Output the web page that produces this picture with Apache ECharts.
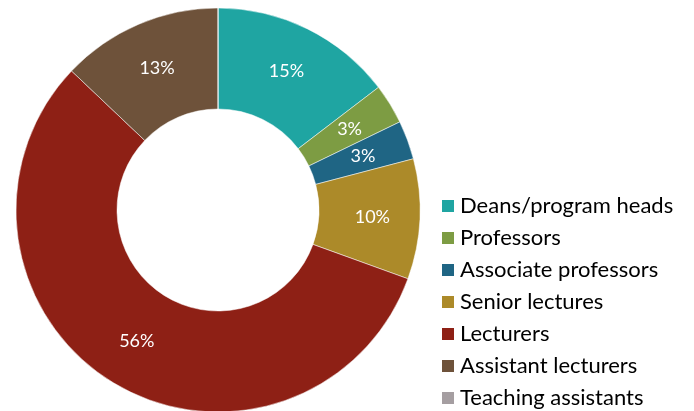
<!DOCTYPE html>
<html>
<head>
<meta charset="utf-8">
<script src="https://cdn.jsdelivr.net/npm/echarts@6/dist/echarts.min.js"></script>
<style>
  html, body { margin: 0; padding: 0; background: #fff; }
  #main { width: 694px; height: 411px; }
</style>
</head>
<body>
<div id="main"></div>
<script>
// staff categories and their share (percent)
var categories = ['Deans/program heads', 'Professors', 'Associate professors', 'Senior lectures', 'Lecturers', 'Assistant lecturers', 'Teaching assistants'];
var shares = [14.6, 3.2, 3.1, 9.6, 56.5, 12.9, 0];
var colors = ['#1fa5a2', '#7d9c43', '#1f6584', '#ac8a29', '#8e2015', '#6e523a', '#a59ea1'];

var data = [];
for (var i = 0; i < categories.length; i++) {
	data.push({ name: categories[i], value: shares[i] });
}

var myChart = echarts.init(document.getElementById('main'));
myChart.setOption({
	color: colors,
	animation: false,
	legend: {
		orient: 'vertical',
		left: 440,
		top: 195,
		height: 230,
		padding: 0,
		itemWidth: 14,
		itemHeight: 14,
		itemGap: 10,
		icon: 'rect',
		textStyle: {
			fontFamily: 'Lato',
			fontSize: 22,
			lineHeight: 22,
			color: '#000'
		},
		data: categories
	},
	series: [{
		type: 'pie',
		center: [218, 210],
		radius: [101, 202],
		startAngle: 90,
		clockwise: true,
		percentPrecision: 0,
		avoidLabelOverlap: false,
		itemStyle: {
			borderColor: '#fff',
			borderWidth: 0.5
		},
		label: {
			show: true,
			position: 'inside',
			color: '#fff',
			fontFamily: 'Lato',
			fontSize: 18,
			formatter: function (p) {
				return p.value > 0 ? p.percent + '%' : '';
			}
		},
		labelLine: { show: false },
		data: data
	}]
});
</script>
</body>
</html>
